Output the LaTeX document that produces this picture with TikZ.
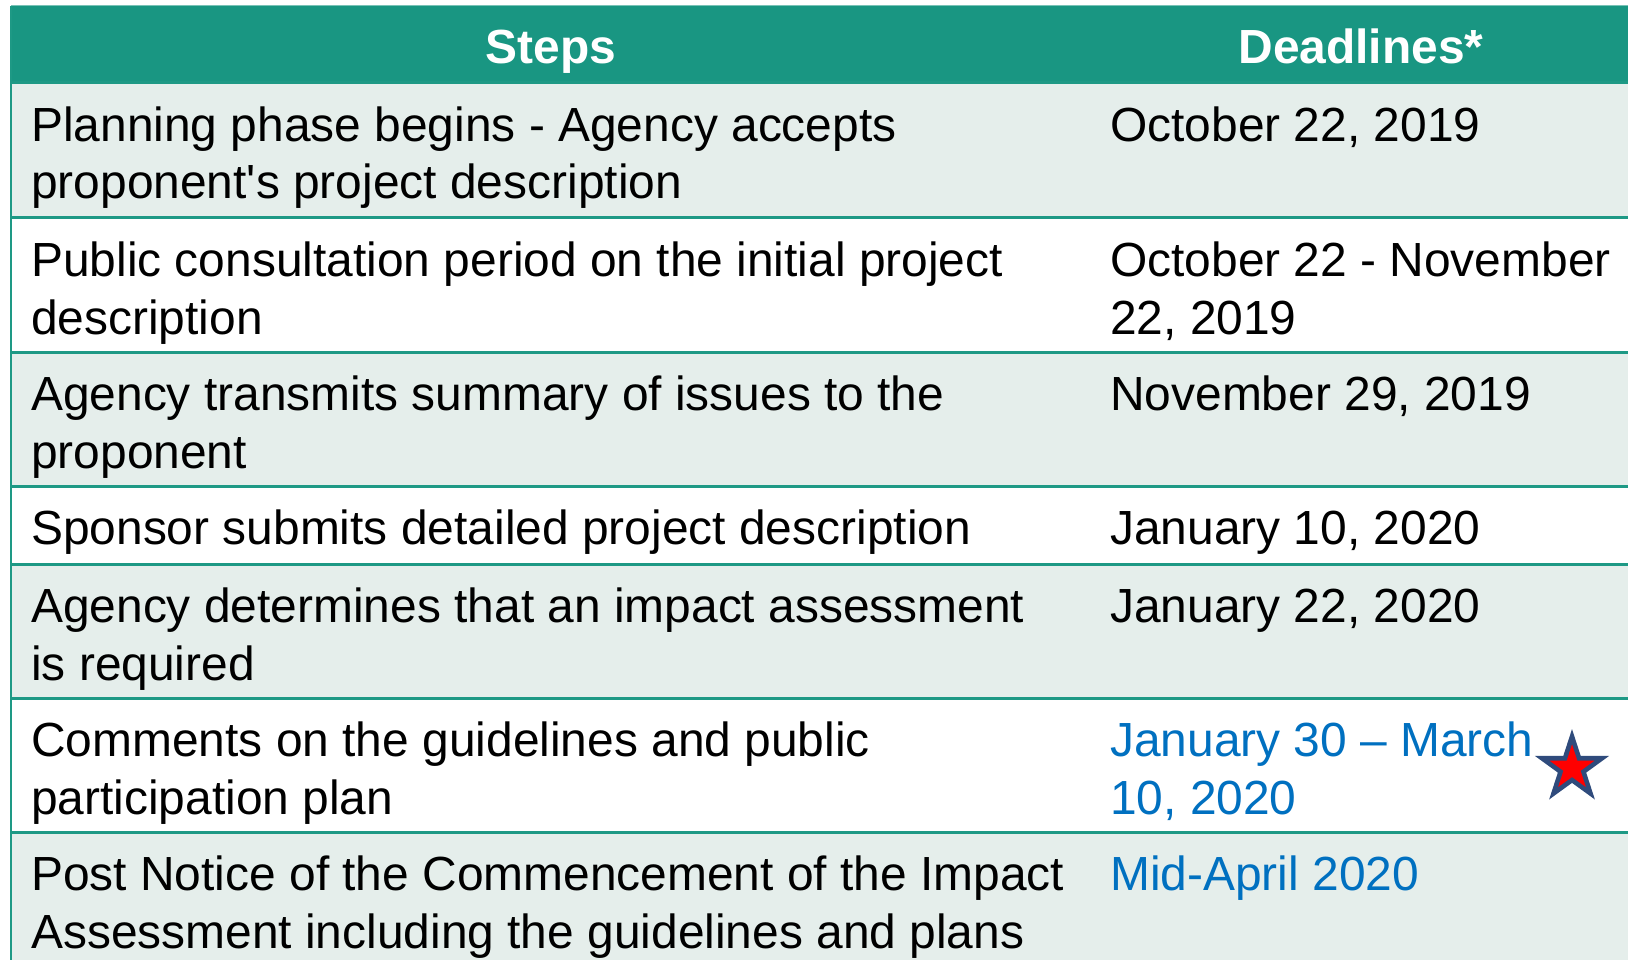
\documentclass[tikz,border=0pt]{standalone}
\usepackage{fontspec}
\setmainfont{Liberation Sans}
\usetikzlibrary{shapes.geometric}
\definecolor{hdr}{HTML}{199682}
\definecolor{lightrow}{HTML}{E5EEEB}
\definecolor{rowline}{HTML}{1E9985}
\definecolor{dateblue}{HTML}{0070C0}
\definecolor{starblue}{HTML}{2F4B7C}
\definecolor{starred}{HTML}{FF0000}
\begin{document}
\begin{tikzpicture}[x=1pt,y=-1pt,
  cell/.style={anchor=base west, inner sep=0pt, align=left, font=\fontsize{47.9}{57.5}\selectfont},
  hdrtxt/.style={anchor=base, inner sep=0pt, text=white, font=\fontsize{47.9}{57.5}\selectfont\bfseries},
  bluecell/.style={cell, text=dateblue},
  sep/.style={draw=rowline, line width=3pt},
  starmark/.style={star, star points=5, star point ratio=2.618, minimum size=63pt, inner sep=0pt, draw=starblue, line width=4.6pt, fill=starred}]
\useasboundingbox (0,0) rectangle (1628,960);
\fill[white] (0,0) rectangle (1628,960);
% fills
\fill[hdr] (11,6) rectangle (1640,83);
\fill[lightrow] (11,83) rectangle (1640,218);
\fill[white] (11,218) rectangle (1640,352);
\fill[lightrow] (11,352) rectangle (1640,486);
\fill[white] (11,486) rectangle (1640,564);
\fill[lightrow] (11,564) rectangle (1640,698);
\fill[white] (11,698) rectangle (1640,832);
\fill[lightrow] (11,832) rectangle (1640,970);
% lines
\draw[draw=rowline!60, line width=1pt] (11,6) -- (1640,6);
\draw[sep] (11,83) -- (1640,83);
\draw[sep] (11,218) -- (1640,218);
\draw[sep] (11,352) -- (1640,352);
\draw[sep] (11,486) -- (1640,486);
\draw[sep] (11,564) -- (1640,564);
\draw[sep] (11,698) -- (1640,698);
\draw[sep] (11,832) -- (1640,832);
\draw[draw=rowline, line width=2pt] (11,6) -- (11,970);
% header
\node[hdrtxt] (h1) at (551,63.5) {Steps};
\node[hdrtxt] (h2) at (1361,63.5) {Deadlines*};
% rows (two-line cells: base anchor is the second line's baseline)
\node[cell] (s1) at (31,199) {Planning phase begins - Agency accepts\\proponent\textquotesingle s project description};
\node[cell] (d1) at (1110,141.5) {October 22, 2019};
\node[cell] (s2) at (31,334) {Public consultation period on the initial project\\description};
\node[cell] (d2) at (1110,334) {October 22 - November\\22, 2019};
\node[cell] (s3) at (31,468) {Agency transmits summary of issues to the\\proponent};
\node[cell] (d3) at (1110,410.5) {November 29, 2019};
\node[cell] (s4) at (31,544.5) {Sponsor submits detailed project description};
\node[cell] (d4) at (1110,544.5) {January 10, 2020};
\node[cell] (s5) at (31,680) {Agency determines that an impact assessment\\is required};
\node[cell] (d5) at (1110,622.5) {January 22, 2020};
\node[cell] (s6) at (31,814) {Comments on the guidelines and public\\participation plan};
\node[bluecell] (d6) at (1110,814) {January 30 – March\\10, 2020};
\node[cell] (s7) at (31,948) {Post Notice of the Commencement of the Impact\\Assessment including the guidelines and plans};
\node[bluecell] (d7) at (1110,890.5) {Mid-April 2020};
% star
\node[starmark] (mark) at (1572,768) {};
\end{tikzpicture}
\end{document}
